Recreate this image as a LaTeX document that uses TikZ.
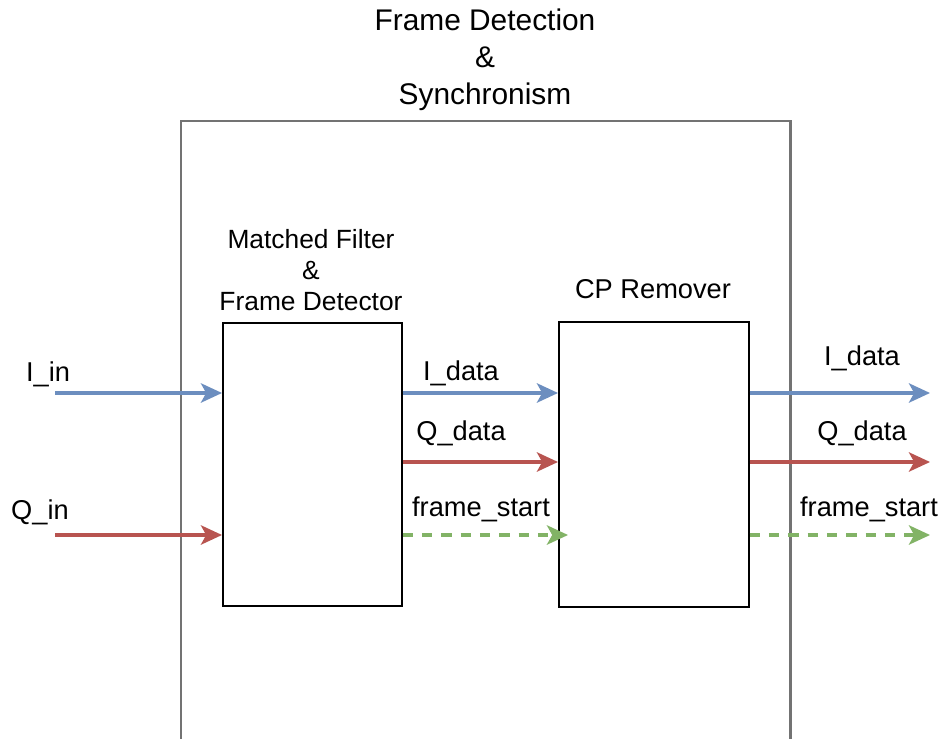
\documentclass[tikz,border=0pt]{standalone}
\usepackage{fontspec}
\setmainfont{Liberation Sans}
\usetikzlibrary{arrows.meta}
\definecolor{iblue}{HTML}{6C8EBF}
\definecolor{qred}{HTML}{B85450}
\definecolor{fgreen}{HTML}{82B366}
\tikzset{
  blk/.style={draw=black,line width=0.9pt,anchor=north west,inner sep=0pt},
  sig/.style={line width=1.9pt,-{Stealth[length=12pt,width=11pt,inset=3pt]}},
  lbl/.style={font=\fontsize{15.5}{17.5}\selectfont,align=center,inner sep=0pt}
}
\begin{document}
\begin{tikzpicture}[x=0.02cm,y=-0.02cm]
\useasboundingbox (0,0) rectangle (945,739);
\draw[gray!90!black,line width=1.7pt] (181,745) -- (181,121) -- (790,121) -- (790,745);
\node[lbl,font=\fontsize{17}{21}\selectfont] (title) at (485,60) {Frame Detection\\\&\\Synchronism};
\node[blk,minimum width=3.58cm,minimum height=5.66cm] (mf) at (222,322) {};
\node[blk,minimum width=3.8cm,minimum height=5.7cm] (cp) at (558,321) {};
\node[lbl,font=\fontsize{15}{17.5}\selectfont] (mflbl) at (311,270) {Matched Filter\\\&\\Frame Detector};
\node[lbl] (cplbl) at (653,289) {CP Remover};
\coordinate (iin) at (55,393);
\coordinate (qin) at (55,535);
\coordinate (iout) at (930,393);
\coordinate (qout) at (930,462);
\coordinate (fout) at (930,535);
\coordinate (fcp) at (568,535);
\draw[sig,iblue] (iin) -- (mf.west |- iin);
\draw[sig,qred] (qin) -- (mf.west |- qin);
\draw[sig,iblue] (mf.east |- iin) -- (cp.west |- iin);
\draw[sig,qred] (mf.east |- qout) -- (cp.west |- qout);
\draw[sig,fgreen,dashed,dash pattern=on 6pt off 5pt] (mf.east |- fcp) -- (fcp);
\draw[sig,iblue] (cp.east |- iout) -- (iout);
\draw[sig,qred] (cp.east |- qout) -- (qout);
\draw[sig,fgreen,dashed,dash pattern=on 6pt off 5pt] (cp.east |- fout) -- (fout);
\node[lbl] (iinlbl) at (48,374) {I\_in};
\node[lbl] (qinlbl) at (40,512) {Q\_in};
\node[lbl] (idlbl) at (461,373) {I\_data};
\node[lbl] (qdlbl) at (461,433) {Q\_data};
\node[lbl] (fslbl) at (481,509) {frame\_start};
\node[lbl] (idlbl2) at (862,358) {I\_data};
\node[lbl] (qdlbl2) at (862,433) {Q\_data};
\node[lbl] (fslbl2) at (869,509) {frame\_start};
\end{tikzpicture}
\end{document}
